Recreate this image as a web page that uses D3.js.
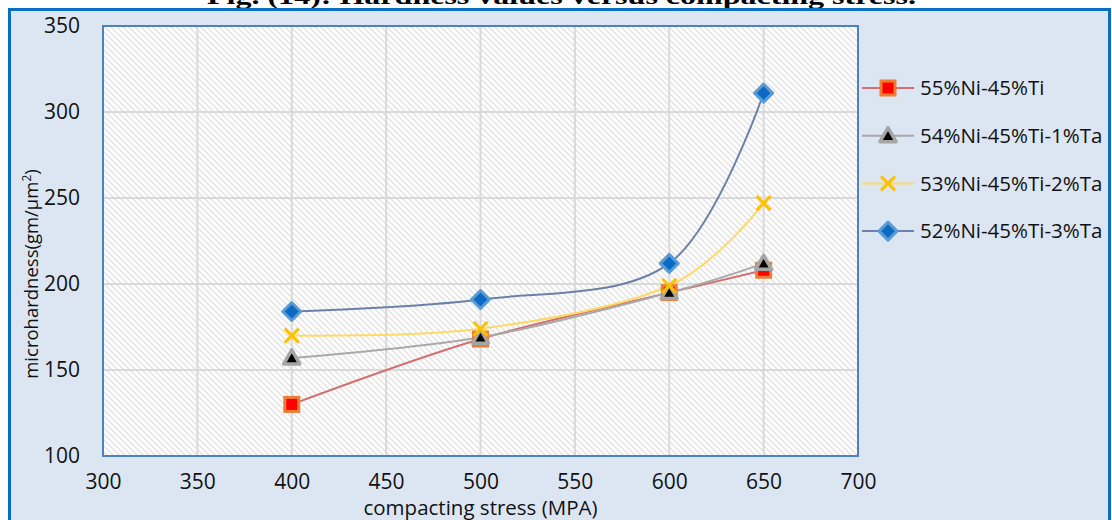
<!DOCTYPE html>
<html>
<head>
<meta charset="utf-8">
<script src="https://cdn.jsdelivr.net/npm/d3@7"></script>
<style>
  html, body { margin: 0; padding: 0; background: #ffffff; }
  svg { display: block; }
</style>
</head>
<body>
<svg id="chart" width="1112" height="520"></svg>
<script>
// Compacting stress (MPa) at which each alloy was tested
const stress = [400, 500, 600, 650];

// Microhardness (gm/µm²) for each composition
const seriesNames = ["55%Ni-45%Ti", "54%Ni-45%Ti-1%Ta", "53%Ni-45%Ti-2%Ta", "52%Ni-45%Ti-3%Ta"];
const hardNi55 = [130, 168, 195, 208];
const hardTa1 = [157, 169, 195, 212];
const hardTa2 = [170, 174, 199, 247];
const hardTa3 = [184, 191, 212, 311];

const xTicks = [300, 350, 400, 450, 500, 550, 600, 650, 700];
const yTicks = [100, 150, 200, 250, 300, 350];

const titleText = "Fig. (14): Hardness values versus compacting stress.";
const xLabel = "compacting stress (MPA)";

const series = [
  { name: seriesNames[0], values: hardNi55, line: "#d46f70", marker: "square" },
  { name: seriesNames[1], values: hardTa1, line: "#a9a9a9", marker: "triangle" },
  { name: seriesNames[2], values: hardTa2, line: "#ffd966", marker: "cross" },
  { name: seriesNames[3], values: hardTa3, line: "#6c80a8", marker: "diamond" }
];

const svg = d3.select("#chart");
const font = "'Open Sans', 'Noto Sans', sans-serif";

const plot = { left: 103, right: 858, top: 26, bottom: 456 };
const x = d3.scaleLinear().domain([300, 700]).range([plot.left, plot.right]);
const y = d3.scaleLinear().domain([100, 350]).range([plot.bottom, plot.top]);

// Figure caption, mostly above the top edge
svg.append("text")
  .attr("x", 207).attr("y", 4)
  .attr("textLength", 709).attr("lengthAdjust", "spacingAndGlyphs")
  .attr("font-family", "'Liberation Serif', 'Times New Roman', serif")
  .attr("font-weight", "bold").attr("font-size", 24)
  .attr("fill", "#000")
  .text(titleText);

// Chart area
svg.append("rect")
  .attr("x", 9.5).attr("y", 9.5).attr("width", 1100).attr("height", 530)
  .attr("fill", "#dce6f2").attr("stroke", "#0a6fc2").attr("stroke-width", 3);

// Diagonal hatch fill for the plot area
const defs = svg.append("defs");
const pat = defs.append("pattern")
  .attr("id", "hatch").attr("patternUnits", "userSpaceOnUse")
  .attr("width", 6).attr("height", 6);
pat.append("rect").attr("width", 6).attr("height", 6).attr("fill", "#ffffff");
pat.append("path").attr("d", "M-1,-1 L7,7 M-1,5 L1,7 M5,-1 L7,1")
  .attr("stroke", "#e1e1e1").attr("stroke-width", 1.3);

svg.append("rect")
  .attr("x", plot.left).attr("y", plot.top)
  .attr("width", plot.right - plot.left).attr("height", plot.bottom - plot.top)
  .attr("fill", "url(#hatch)");

// Gridlines
const grid = svg.append("g");
grid.selectAll("line.v").data(xTicks.slice(1, -1)).join("line")
  .attr("x1", d => x(d)).attr("x2", d => x(d))
  .attr("y1", plot.top).attr("y2", plot.bottom)
  .attr("stroke", "#d9d9d9").attr("stroke-width", 2);
grid.selectAll("line.h").data(yTicks.slice(1, -1)).join("line")
  .attr("x1", plot.left).attr("x2", plot.right)
  .attr("y1", d => y(d)).attr("y2", d => y(d))
  .attr("stroke", "#d9d9d9").attr("stroke-width", 2);

// Plot area border
svg.append("rect")
  .attr("x", plot.left).attr("y", plot.top)
  .attr("width", plot.right - plot.left).attr("height", plot.bottom - plot.top)
  .attr("fill", "none").attr("stroke", "#4f81bd").attr("stroke-width", 2);

// Axes (labels only)
const xAxis = d3.axisBottom(x).tickValues(xTicks).tickSize(0).tickPadding(0);
const gx = svg.append("g").attr("transform", `translate(0,${plot.bottom + 21})`).call(xAxis);
gx.select(".domain").remove();
gx.selectAll("text").attr("font-family", font).attr("font-size", 21).attr("fill", "#111")
  .attr("dy", "0.55em");

const yAxis = d3.axisLeft(y).tickValues(yTicks).tickSize(0).tickPadding(0);
const gy = svg.append("g").attr("transform", `translate(80,0)`).call(yAxis);
gy.select(".domain").remove();
gy.selectAll("text").attr("font-family", font).attr("font-size", 21).attr("fill", "#111");

// Axis titles
svg.append("text")
  .attr("x", (plot.left + plot.right) / 2).attr("y", 515)
  .attr("text-anchor", "middle").attr("font-family", font).attr("font-size", 20.5)
  .attr("fill", "#111").text(xLabel);

const yt = svg.append("text")
  .attr("transform", "translate(38,274) rotate(-90)")
  .attr("text-anchor", "middle").attr("font-family", font).attr("font-size", 18.5)
  .attr("fill", "#111");
yt.append("tspan").text("microhardness(gm/µm");
yt.append("tspan").attr("font-size", 12).attr("dy", -7).text("2");
yt.append("tspan").attr("dy", 7).text(")");

// Marker drawing
function drawMarker(g, type) {
  if (type === "square") {
    g.append("rect").attr("x", -7).attr("y", -7).attr("width", 14).attr("height", 14)
      .attr("fill", "#ff0000").attr("stroke", "#ed7d31").attr("stroke-width", 3);
  } else if (type === "triangle") {
    g.append("path").attr("d", "M0,-8 L8,6 L-8,6 Z")
      .attr("fill", "#000000").attr("stroke", "#a5a5a5").attr("stroke-width", 3.5)
      .attr("stroke-linejoin", "round");
  } else if (type === "cross") {
    g.append("path").attr("d", "M-7,-7 L7,7 M-7,7 L7,-7")
      .attr("stroke", "#ffc000").attr("stroke-width", 3).attr("fill", "none");
  } else if (type === "diamond") {
    g.append("path").attr("d", "M0,-9 L9,0 L0,9 L-9,0 Z")
      .attr("fill", "#0a6ac4").attr("stroke", "#5b9bd5").attr("stroke-width", 3)
      .attr("stroke-linejoin", "round");
  }
}

// Smoothed series lines
const line = d3.line()
  .x((d, i) => x(stress[i]))
  .y(d => y(d))
  .curve(d3.curveCardinal.tension(0));

const lines = svg.append("g");
series.forEach(s => {
  lines.append("path").datum(s.values)
    .attr("d", line)
    .attr("fill", "none").attr("stroke", s.line).attr("stroke-width", 2);
});

const marks = svg.append("g");
series.forEach(s => {
  s.values.forEach((v, i) => {
    const g = marks.append("g").attr("transform", `translate(${x(stress[i])},${y(v)})`);
    drawMarker(g, s.marker);
  });
});

// Legend
const legend = svg.append("g");
series.forEach((s, i) => {
  const ly = 88 + i * 47.7;
  const g = legend.append("g").attr("transform", `translate(0,${ly})`);
  g.append("line").attr("x1", 862).attr("x2", 914).attr("y1", 0).attr("y2", 0)
    .attr("stroke", s.line).attr("stroke-width", 2);
  drawMarker(g.append("g").attr("transform", "translate(888,0)"), s.marker);
  g.append("text").attr("x", 920).attr("y", 0).attr("dy", "0.36em")
    .attr("font-family", font).attr("font-size", 20.5).attr("fill", "#111")
    .text(s.name);
});
</script>
</body>
</html>
